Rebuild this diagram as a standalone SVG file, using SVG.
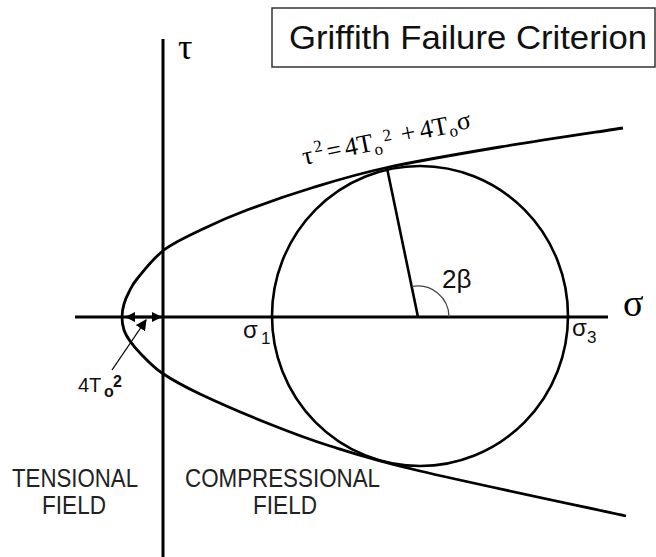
<svg xmlns="http://www.w3.org/2000/svg" width="656" height="557" viewBox="0 0 656 557">
<style>
.ax{stroke:#000;stroke-width:3;fill:none}
.cv{stroke:#000;stroke-width:2.8;fill:none}
.sans{font-family:"Liberation Sans",Arial,sans-serif;fill:#111}
.serif{font-family:"Liberation Serif","Times New Roman",serif;fill:#000}
.lbl{font-size:25px;fill:#222}
</style>
<defs>
<marker id="ah" viewBox="0 0 10 10" refX="9" refY="5" markerWidth="10" markerHeight="10" markerUnits="userSpaceOnUse" orient="auto-start-reverse">
<path d="M0,0 L10,5 L0,10 z" fill="#000"/>
</marker>
<marker id="ah2" viewBox="0 0 10 10" refX="9" refY="5" markerWidth="11" markerHeight="11" markerUnits="userSpaceOnUse" orient="auto">
<path d="M0,0 L10,5 L0,10 z" fill="#000"/>
</marker>
</defs>
<rect width="656" height="557" fill="#fff"/>

<g id="title">
<rect x="272" y="8" width="383" height="59" fill="#fff" stroke="#333" stroke-width="1.5"/>
<text class="sans" x="289" y="49" font-size="33" textLength="358" lengthAdjust="spacingAndGlyphs">Griffith Failure Criterion</text>
</g>

<g id="axes">
<line class="ax" x1="163" y1="39" x2="163" y2="557"/>
<line class="ax" x1="75" y1="317" x2="608" y2="317"/>
<text class="serif" x="178" y="59" font-size="36">τ</text>
<text class="serif" x="623" y="316" font-size="38">σ</text>
</g>

<g id="envelope">
<path class="cv" d="M623,128 C602.5,131.2 539.3,140.4 500,147 C460.7,153.6 418.2,160.75 387,167.5 C355.8,174.25 336.3,180.4 313,187.5 C289.7,194.6 265,203.25 247,210 C229,216.75 218.8,221.3 205,228 C191.2,234.7 175.3,241.5 164,250 C152.7,258.5 142.8,272 137,279 C131.2,286 131.2,287.8 129,292 C126.8,296.2 125.2,299.8 124,304 C122.8,308.2 122,312.7 122,317 C122,321.3 122.7,326 124,330 C125.3,334 127.3,337.2 130,341 C132.7,344.8 134.7,347.7 140,353 C145.3,358.3 152,366.2 162,373 C172,379.8 182.5,385.7 200,394 C217.5,402.3 245.3,414.3 267,423 C288.7,431.7 304.5,438 330,446 C355.5,454 370.7,459.3 420,471 C469.3,482.7 591.7,508.5 626,516"/>
<text class="serif" font-size="26" transform="rotate(-11.5 303 160)"><tspan x="303" y="165">τ</tspan><tspan x="316" y="155" font-size="17">2</tspan><tspan x="328" y="165">=</tspan><tspan x="346" y="165">4T</tspan><tspan x="375" y="170" font-size="17">o</tspan><tspan x="386" y="158" font-size="17">2</tspan><tspan x="404" y="163">+</tspan><tspan x="423" y="163">4T</tspan><tspan x="452" y="167" font-size="17">o</tspan><tspan x="461" y="162">σ</tspan></text>
</g>

<g id="mohr-circle">
<ellipse cx="420" cy="316" rx="148" ry="150" fill="none" stroke="#000" stroke-width="2.6"/>
<line x1="418" y1="317" x2="387" y2="168" stroke="#000" stroke-width="2.6"/>
<path d="M449,317 A31,31 0 0 0 411.7,286.6" fill="none" stroke="#444" stroke-width="1.2"/>
<text class="sans" x="442" y="288" font-size="26">2β</text>
<text class="sans" x="243" y="338" font-size="24">σ</text>
<text class="sans" x="261" y="344" font-size="17">1</text>
<text class="sans" x="572" y="336" font-size="24">σ</text>
<text class="sans" x="587" y="343" font-size="17">3</text>
</g>

<g id="tensile-strength">
<text class="sans" x="78" y="392" font-size="20">4T</text>
<text class="sans" x="104" y="397" font-size="16" font-weight="bold">o</text>
<text class="sans" x="113" y="387" font-size="16" font-weight="bold">2</text>
</g>

<g id="connectors">
<line x1="126" y1="317" x2="161" y2="317" stroke="#000" stroke-width="2.5" marker-start="url(#ah)" marker-end="url(#ah)"/>
<line x1="112" y1="370" x2="146" y2="320" stroke="#000" stroke-width="1.3" marker-end="url(#ah2)"/>
</g>

<g id="field-labels">
<text class="sans lbl" x="12" y="487" textLength="126" lengthAdjust="spacingAndGlyphs">TENSIONAL</text>
<text class="sans lbl" x="42" y="514" textLength="64" lengthAdjust="spacingAndGlyphs">FIELD</text>
<text class="sans lbl" x="185" y="487" textLength="195" lengthAdjust="spacingAndGlyphs">COMPRESSIONAL</text>
<text class="sans lbl" x="253" y="514" textLength="64" lengthAdjust="spacingAndGlyphs">FIELD</text>
</g>
</svg>
